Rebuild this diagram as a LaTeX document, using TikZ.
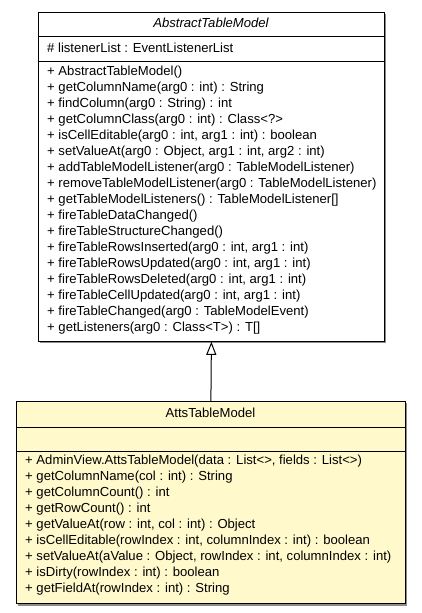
\documentclass[tikz,border=0pt]{standalone}
\usepackage{fontspec}
\setmainfont{Liberation Sans}
\usetikzlibrary{arrows.meta}

\definecolor{classfill}{HTML}{FFF9CC}
\definecolor{shadowgray}{HTML}{8C8C8C}

\tikzset{
    classbox/.style={draw=black, line width=0.8pt, inner sep=0pt, anchor=north west},
    member/.style={anchor=west, inner sep=0pt, font=\fontsize{13.1}{15}\selectfont},
    classname/.style={inner sep=0pt, font=\fontsize{13.1}{15}\selectfont},
    extends/.style={-{Triangle[open,length=13pt,width=10pt]}, line width=1pt}
}

\begin{document}
\begin{tikzpicture}[x=1pt,y=-1pt]
    \useasboundingbox (0,0) rectangle (421,613);

    % AbstractTableModel
    \fill[shadowgray] (39.5,13.5) rectangle (385.5,342.5);
    \node[classbox, fill=white, minimum width=346pt, minimum height=329pt] (atm) at (38,12) {};
    \node[classname] (atmname) at (211,23) {\itshape AbstractTableModel};
    \draw[line width=0.8pt] (38,36) -- (384,36);
    \draw[line width=0.8pt] (38,61) -- (384,61);
    \node[member] (atmattr) at (47,48) {\# listenerList : EventListenerList};
    \foreach \txt [count=\i from 0] in {
        {+ AbstractTableModel()},
        {+ getColumnName(arg0 : int) : String},
        {+ findColumn(arg0 : String) : int},
        {+ getColumnClass(arg0 : int) : Class<?>},
        {+ isCellEditable(arg0 : int, arg1 : int) : boolean},
        {+ setValueAt(arg0 : Object, arg1 : int, arg2 : int)},
        {+ addTableModelListener(arg0 : TableModelListener)},
        {+ removeTableModelListener(arg0 : TableModelListener)},
        {+ getTableModelListeners() : TableModelListener[]},
        {+ fireTableDataChanged()},
        {+ fireTableStructureChanged()},
        {+ fireTableRowsInserted(arg0 : int, arg1 : int)},
        {+ fireTableRowsUpdated(arg0 : int, arg1 : int)},
        {+ fireTableRowsDeleted(arg0 : int, arg1 : int)},
        {+ fireTableCellUpdated(arg0 : int, arg1 : int)},
        {+ fireTableChanged(arg0 : TableModelEvent)},
        {+ getListeners(arg0 : Class<T>) : T[]}}
        \node[member] (atmop\i) at (47,72+16*\i) {\txt};

    % AttsTableModel
    \fill[shadowgray] (17.5,402.5) rectangle (406.5,605.5);
    \node[classbox, fill=classfill, minimum width=389pt, minimum height=202pt] (attm) at (16,401) {};
    \node[classname] (attmname) at (210.5,413) {AttsTableModel};
    \draw[line width=0.8pt] (16,427) -- (405,427);
    \draw[line width=0.8pt] (16,451) -- (405,451);
    \foreach \txt [count=\i from 0] in {
        {+ AdminView.AttsTableModel(data : List<>, fields : List<>)},
        {+ getColumnName(col : int) : String},
        {+ getColumnCount() : int},
        {+ getRowCount() : int},
        {+ getValueAt(row : int, col : int) : Object},
        {+ isCellEditable(rowIndex : int, columnIndex : int) : boolean},
        {+ setValueAt(aValue : Object, rowIndex : int, columnIndex : int)},
        {+ isDirty(rowIndex : int) : boolean},
        {+ getFieldAt(rowIndex : int) : String}}
        \node[member] (attmop\i) at (25,461+16*\i) {\txt};

    % generalisation
    \draw[extends] (attm.north) -- (atm.south);
\end{tikzpicture}
\end{document}
